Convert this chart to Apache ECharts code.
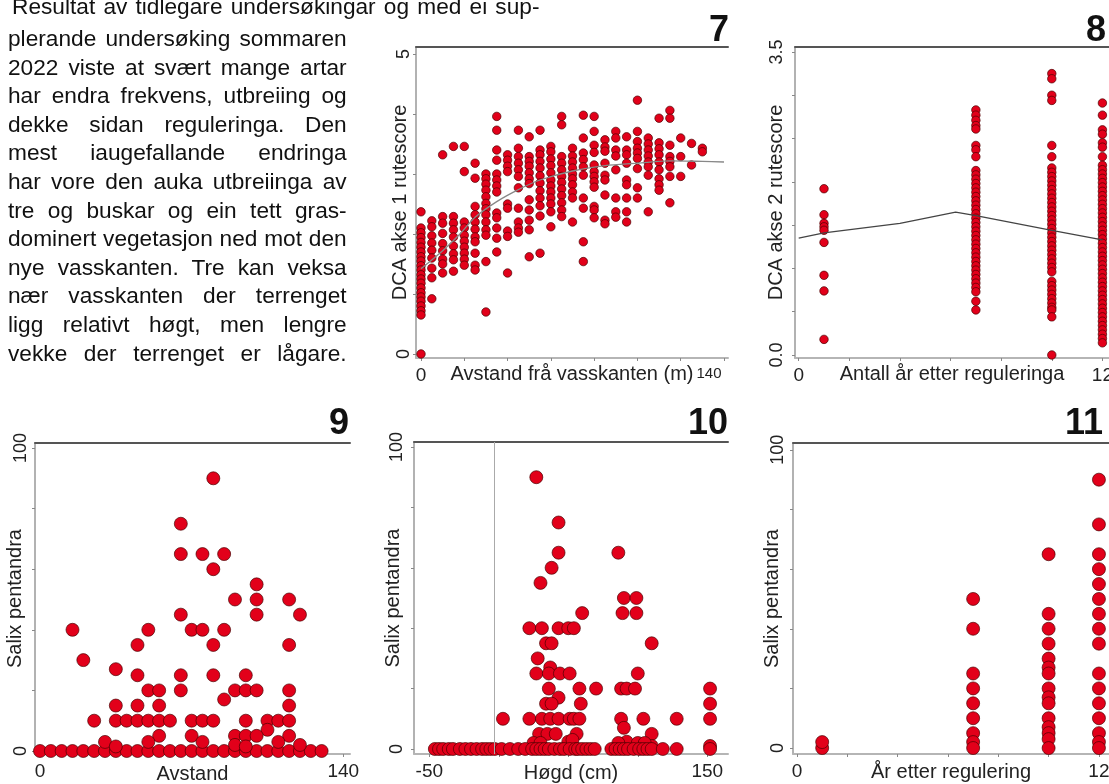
<!DOCTYPE html>
<html>
<head>
<meta charset="utf-8">
<title>DCA og Salix pentandra</title>
<script src="https://cdn.jsdelivr.net/npm/echarts@6/dist/echarts.min.js"></script>
<style>
  html, body { margin: 0; padding: 0; background: #fff; }
  #wrap { position: relative; width: 1109px; height: 784px; overflow: hidden; }
  #chart { position: absolute; left: 0; top: 0; width: 1109px; height: 784px; }
  .txt { position: absolute; font-family: "Liberation Sans", Arial, sans-serif; font-size: 21.5px; line-height: 28.6px;
         color: #111; transform: scaleX(1.055); transform-origin: 0 0; }
  .txt div { text-align: justify; text-align-last: justify; }
</style>
</head>
<body>
<div id="wrap">
  <div id="chart"></div>
  <div class="txt" style="left:12px; top:-7px; width:500px;">
    <div>Resultat av tidlegare undersøkingar og med ei sup-</div>
  </div>
  <div class="txt" style="left:8px; top:25px; width:321px;">
    <div>plerande undersøking sommaren</div>
    <div>2022 viste at svært mange artar</div>
    <div>har endra frekvens, utbreiing og</div>
    <div>dekke sidan reguleringa. Den</div>
    <div>mest iaugefallande endringa</div>
    <div>har vore den auka utbreiinga av</div>
    <div>tre og buskar og ein tett gras-</div>
    <div>dominert vegetasjon ned mot den</div>
    <div>nye vasskanten. Tre kan veksa</div>
    <div>nær vasskanten der terrenget</div>
    <div>ligg relativt høgt, men lengre</div>
    <div>vekke der terrenget er lågare.</div>
  </div>
</div>
<script>
// ---------------------------------------------------------------------------
// Fem små spreiingsplott (7-11): DCA-skårar og dekning av Salix pentandra
// ---------------------------------------------------------------------------

// 7: DCA akse 1 mot avstand frå vasskanten (kolonnar kvar 5. m)
const dca1Dist = [0, 5, 10, 15, 20, 25, 30, 35, 40, 45, 50, 55, 60, 65, 70, 75, 80, 85, 90, 95, 100, 105, 110, 115, 120, 125, 130];
const dca1Score = [
  [2.37, 2.1, 2.02, 1.94, 1.86, 1.78, 1.7, 1.62, 1.55, 1.47, 1.4, 1.32, 1.25, 1.18, 1.1, 1.02, 0.95, 0.88, 0.8, 0.72, 0.65, 0.0],
  [2.22, 2.12, 1.97, 1.85, 1.73, 1.6, 1.43, 1.27, 0.92],
  [3.32, 2.29, 2.18, 2.01, 1.84, 1.72, 1.58, 1.5, 1.35],
  [3.46, 2.29, 2.18, 2.07, 1.95, 1.8, 1.67, 1.57, 1.38],
  [3.46, 3.04, 2.2, 2.1, 1.98, 1.88, 1.78, 1.68, 1.58, 1.48],
  [3.18, 2.93, 2.46, 2.32, 2.2, 2.08, 1.95, 1.87, 1.68, 1.48, 1.4],
  [3.0, 2.92, 2.83, 2.73, 2.62, 2.51, 2.42, 2.32, 2.2, 2.07, 1.98, 1.54, 0.7],
  [3.96, 3.73, 3.4, 3.23, 3.0, 2.9, 2.8, 2.7, 2.35, 2.27, 2.1, 1.93, 1.7],
  [3.32, 3.23, 3.13, 3.04, 2.5, 2.43, 2.05, 1.96, 1.35],
  [3.73, 3.43, 3.29, 3.18, 3.07, 2.96, 2.77, 2.43, 2.2, 2.1, 2.03],
  [3.62, 3.29, 3.21, 3.13, 3.02, 2.92, 2.84, 2.57, 2.4, 2.23, 2.07, 1.62],
  [3.73, 3.4, 3.32, 3.21, 3.1, 2.97, 2.85, 2.72, 2.6, 2.47, 2.3, 1.68],
  [3.46, 3.37, 3.25, 3.14, 3.02, 2.9, 2.8, 2.7, 2.6, 2.5, 2.37, 2.12],
  [3.96, 3.82, 3.29, 3.18, 3.07, 2.96, 2.86, 2.75, 2.64, 2.52, 2.4, 2.29],
  [3.43, 3.3, 3.2, 3.1, 3.0, 2.92, 2.82, 2.7, 2.6, 2.2],
  [3.98, 3.6, 3.35, 3.24, 3.12, 2.98, 2.6, 2.43, 1.87, 1.54],
  [3.96, 3.71, 3.48, 3.36, 3.15, 3.04, 2.96, 2.87, 2.78, 2.46, 2.4, 2.27],
  [3.57, 3.45, 3.38, 3.18, 2.98, 2.9, 2.65, 2.23, 2.17],
  [3.71, 3.6, 3.4, 3.3, 3.07, 2.6, 2.37, 2.28],
  [3.62, 3.4, 3.32, 3.18, 2.9, 2.82, 2.6, 2.37, 2.2],
  [4.23, 3.71, 3.54, 3.43, 3.35, 3.26, 3.09, 2.77, 2.6],
  [3.6, 3.5, 3.4, 3.3, 3.2, 3.12, 2.98, 2.37],
  [3.93, 3.52, 3.42, 3.32, 3.2, 3.07, 2.92, 2.82, 2.73],
  [4.06, 3.93, 3.48, 3.29, 3.21, 3.12, 2.96, 2.52],
  [3.6, 3.29, 2.96],
  [3.51, 3.15],
  [3.43, 3.37]
];
const dca1Fit = [[0, 1.42], [10, 1.72], [18, 2.0], [25, 2.28], [35, 2.54], [45, 2.74], [55, 2.9], [70, 3.05], [85, 3.14], [100, 3.18], [115, 3.22], [130, 3.21], [140, 3.2]];

// 8: DCA akse 2 mot år etter regulering
const dca2Years = [1, 7, 10, 12];
const dca2Score = [
  [1.92, 1.62, 1.52, 1.48, 1.44, 1.3, 0.92, 0.74, 0.18],
  [2.83, 2.77, 2.71, 2.65, 2.61, 2.42, 2.37, 2.29, 2.13, 2.08, 2.03, 1.98, 1.93, 1.88, 1.83, 1.78, 1.73, 1.68, 1.63, 1.58, 1.53, 1.48, 1.43, 1.38, 1.33, 1.28, 1.23, 1.18, 1.13, 1.08, 1.03, 0.98, 0.93, 0.88, 0.83, 0.78, 0.73, 0.62, 0.52],
  [3.25, 3.19, 3.0, 2.94, 2.42, 2.29, 2.16, 2.11, 2.06, 2.01, 1.96, 1.91, 1.86, 1.81, 1.76, 1.71, 1.66, 1.61, 1.56, 1.51, 1.46, 1.41, 1.36, 1.31, 1.26, 1.21, 1.16, 1.11, 1.06, 1.01, 0.96, 0.85, 0.8, 0.75, 0.7, 0.65, 0.6, 0.55, 0.52, 0.44, 0.0],
  [2.91, 2.77, 2.6, 2.55, 2.45, 2.4, 2.29, 2.19, 2.14, 2.09, 2.04, 1.99, 1.94, 1.89, 1.84, 1.79, 1.74, 1.69, 1.64, 1.59, 1.54, 1.49, 1.44, 1.39, 1.34, 1.29, 1.24, 1.19, 1.14, 1.09, 1.04, 0.99, 0.94, 0.89, 0.84, 0.79, 0.74, 0.69, 0.64, 0.59, 0.54, 0.49, 0.44, 0.39, 0.34, 0.29, 0.24, 0.19, 0.14]
];
const dca2Fit = [[0, 1.35], [1, 1.41], [4, 1.52], [6.2, 1.65], [7, 1.61], [10, 1.44], [12, 1.33]];

// 9: Salix pentandra mot avstand
const salixDist = [
  0, 5, 10, 15, 20, 25, 30, 35, 40, 45, 50, 55, 60, 65, 70, 75, 80, 85, 90, 95, 100, 105, 110, 115, 120, 125, 130,
  80, 65, 65, 75, 85, 80, 100, 90, 100, 115, 65, 100, 120, 15, 50, 70, 75, 85, 45, 80, 115, 20, 35, 45, 65, 80, 95,
  50, 55, 65, 90, 95, 100, 115, 85, 35, 45, 55, 115, 25, 35, 40, 45, 50, 55, 60, 70, 75, 80, 95, 105, 110, 115,
  105, 55, 70, 90, 95, 100, 115, 30, 50, 75, 110, 90, 120, 35, 95
];
const salixDistCover = [
  0, 0, 0, 0, 0, 0, 0, 0, 0, 0, 0, 0, 0, 0, 0, 0, 0, 0, 0, 0, 0, 0, 0, 0, 0, 0, 0,
  90, 75, 65, 65, 65, 60, 55, 50, 50, 50, 45, 45, 45, 40, 40, 40, 40, 40, 35, 35, 35, 30, 27, 25, 25, 25, 25,
  20, 20, 20, 20, 20, 20, 20, 17, 15, 15, 15, 15, 10, 10, 10, 10, 10, 10, 10, 10, 10, 10, 10, 10, 10, 10,
  7, 5, 5, 5, 5, 5, 5, 3, 3, 3, 3, 2, 2, 1.5, 1.5
];

// 10: Salix pentandra mot høgd (cm)
const salixHeight = [
  27, 43, 43, 38, 30, 86, 90, 99, 89, 99, 60, 22, 31, 43, 50, 54, 110, 34, 38, 28, 37, 27, 36, 44, 51, 100,
  36, 58, 70, 88, 92, 98, 152, 43, 34, 38, 59, 152,
  3, 22, 31, 37, 43, 51, 54, 58, 88, 104, 128, 152,
  90, 110, 29, 35, 41, 56, 50, 92, 110, 152, 25, 30, 53, 86, 100, 105,
  -46, -43, -40, -36, -33, -28, -24, -20, -16, -12, -9, -6, -3, 2, 8, 14, 19, 24, 27, 30, 33, 36, 40, 44, 47, 51, 55, 57, 60, 63, 66, 69, 81, 84, 87, 90, 93, 97, 101, 104, 107, 110, 118, 128, 152
];
const salixHeightCover = [
  90, 75, 65, 60, 55, 65, 50, 50, 45, 45, 45, 40, 40, 40, 40, 40, 35, 35, 35, 30, 27, 25, 25, 25, 25, 25,
  20, 20, 20, 20, 20, 20, 20, 17, 15, 15, 15, 15,
  10, 10, 10, 10, 10, 10, 10, 10, 10, 10, 10, 10,
  7, 5, 5, 5, 5, 5, 2.4, 2.4, 1, 1, 2, 2, 3, 2, 2, 2,
  0, 0, 0, 0, 0, 0, 0, 0, 0, 0, 0, 0, 0, 0, 0, 0, 0, 0, 0, 0, 0, 0, 0, 0, 0, 0, 0, 0, 0, 0, 0, 0, 0, 0, 0, 0, 0, 0, 0, 0, 0, 0, 0, 0, 0
];
const waterLevel = -3; // loddrett referanselinje i plott 10

// 11: Salix pentandra mot år etter regulering
const salixYear = [
  1, 1,
  7, 7, 7, 7, 7, 7, 7, 7, 7,
  10, 10, 10, 10, 10, 10, 10, 10, 10, 10, 10, 10, 10, 10, 10,
  12, 12, 12, 12, 12, 12, 12, 12, 12, 12, 12, 12, 12, 12, 12, 12
];
const salixYearCover = [
  0, 2,
  50, 40, 25, 20, 15, 10, 5, 2, 0,
  65, 45, 40, 35, 30, 27, 25, 20, 17, 15, 10, 7, 5, 3, 0,
  90, 75, 65, 60, 55, 50, 45, 40, 35, 25, 20, 15, 10, 5, 2, 0
];

// plott-nummer
const panelTags = ['7', '8', '9', '10', '11'];

// ---------------------------------------------------------------------------
const FONT = '"Liberation Sans", Arial, sans-serif';
const RED = '#e2001a';
const EDGE = 'rgba(70,0,0,0.85)';

const chart = echarts.init(document.getElementById('chart'), null, { renderer: 'canvas' });

const dca1Points = [];
dca1Dist.forEach((d, i) => dca1Score[i].forEach(s => dca1Points.push([d, s])));
const dca2Points = [];
dca2Years.forEach((y, i) => dca2Score[i].forEach(s => dca2Points.push([y, s])));
const p9 = salixDist.map((d, i) => [d, salixDistCover[i]]);
const p10 = salixHeight.map((h, i) => [h, salixHeightCover[i]]);
const p11 = salixYear.map((y, i) => [y, salixYearCover[i]]);

const plainFmt = v => String(v);

// grid-boksar og akseutsnitt for kvart plott
const panels = [
  { grid: { left: 416, top: 47, width: 312, height: 311 }, x: [-2.31, 141.85], y: [-0.067, 5.117],
    xTicks: [0, 20, 40, 60, 80, 100, 120, 140], xLabels: [0, 140], yTicks: [0, 1, 2, 3, 4, 5], yLabels: [0, 5],
    xName: 'Avstand frå vasskanten (m)', yName: 'DCA akse 1 rutescore', xGap: 6, yMargin: 3, yGap: 6,
    yFmt: plainFmt,
    // «140» står tett inntil aksetittelen i originalen
    xFmt: v => (v === 140 ? '{r|140}' : String(v)), xRich: { r: { fontSize: 15, color: '#222', padding: [0, 30, 0, 0] } } },
  { grid: { left: 795, top: 47, width: 314, height: 311 }, x: [-0.146, 12.26], y: [-0.035, 3.557],
    xTicks: [0, 2, 4, 6, 8, 10, 12], xLabels: [0, 12], yTicks: [0, 0.5, 1, 1.5, 2, 2.5, 3, 3.5], yLabels: [0, 3.5],
    xName: 'Antall år etter reguleringa', yName: 'DCA akse 2 rutescore', xGap: 6, yMargin: 9, yGap: 9,
    yFmt: v => v.toFixed(1), xFmt: plainFmt },
  { grid: { left: 35, top: 443, width: 315, height: 311 }, x: [-2.31, 143.1], y: [-0.99, 101.65],
    xTicks: [0, 20, 40, 60, 80, 100, 120, 140], xLabels: [0, 140], yTicks: [0, 20, 40, 60, 80, 100], yLabels: [0, 100],
    xName: 'Avstand', yName: 'Salix pentandra', xGap: 10, yMargin: 5, yGap: 10, yFmt: plainFmt, xFmt: plainFmt },
  { grid: { left: 414, top: 442, width: 314, height: 312 }, x: [-61, 164.9], y: [-1.66, 101.66],
    xTicks: [-50, 0, 50, 100, 150], xLabels: [-50, 150], yTicks: [0, 20, 40, 60, 80, 100], yLabels: [0, 100],
    xName: 'Høgd (cm)', yName: 'Salix pentandra', xGap: 9, yMargin: 8, yGap: 11, yFmt: plainFmt, xFmt: plainFmt },
  { grid: { left: 793, top: 443, width: 316, height: 311 }, x: [-0.16, 12.4], y: [-2.0, 102.3],
    xTicks: [0, 2, 4, 6, 8, 10, 12], xLabels: [0, 12], yTicks: [0, 20, 40, 60, 80, 100], yLabels: [0, 100],
    xName: 'År etter regulering', yName: 'Salix pentandra', xGap: 8, yMargin: 6, yGap: 11, yFmt: plainFmt, xFmt: plainFmt }
];

const grid = [], xAxis = [], yAxis = [];
panels.forEach((p, i) => {
  grid.push(Object.assign({ outerBoundsMode: 'none', containLabel: false }, p.grid));
  // nedre x-akse
  xAxis.push({
    type: 'value', gridIndex: i, position: 'bottom', min: p.x[0], max: p.x[1],
    axisLine: { show: true, onZero: false, lineStyle: { color: '#b5b5b5', width: 2 } },
    axisTick: { show: true, customValues: p.xTicks, length: 3, lineStyle: { color: '#888' } },
    axisLabel: { show: true, customValues: p.xLabels, fontSize: 19, color: '#222', margin: 8, fontFamily: FONT,
      formatter: p.xFmt, rich: p.xRich || {} },
    splitLine: { show: false },
    name: p.xName, nameLocation: 'middle', nameGap: p.xGap, nameMoveOverlap: false,
    nameTextStyle: { fontSize: 20, color: '#222', fontFamily: FONT, verticalAlign: 'top' }
  });
  // toppkant
  xAxis.push({
    type: 'value', gridIndex: i, position: 'top', min: p.x[0], max: p.x[1],
    axisLine: { show: true, onZero: false, lineStyle: { color: '#555', width: 2 } },
    axisTick: { show: false }, axisLabel: { show: false }, splitLine: { show: false }
  });
  yAxis.push({
    type: 'value', gridIndex: i, min: p.y[0], max: p.y[1],
    axisLine: { show: true, onZero: false, lineStyle: { color: '#999', width: 1.5 } },
    axisTick: { show: true, customValues: p.yTicks, length: 3, lineStyle: { color: '#888' } },
    axisLabel: { show: true, customValues: p.yLabels, rotate: 90, fontSize: 18, color: '#222', margin: p.yMargin, fontFamily: FONT, formatter: p.yFmt },
    splitLine: { show: false },
    name: p.yName, nameLocation: 'middle', nameGap: p.yGap, nameMoveOverlap: false,
    nameTextStyle: { fontSize: 20, color: '#222', fontFamily: FONT }
  });
});

const dot = (size) => ({
  type: 'scatter', symbol: 'circle', symbolSize: size, silent: true,
  itemStyle: { color: RED, borderColor: EDGE, borderWidth: 0.8, opacity: 1 }
});

const series = [
  Object.assign(dot(8.5), { xAxisIndex: 0, yAxisIndex: 0, data: dca1Points }),
  { type: 'line', xAxisIndex: 0, yAxisIndex: 0, data: dca1Fit, smooth: 0.3, symbol: 'none', silent: true,
    lineStyle: { color: '#888', width: 1.3 }, z: 3 },
  Object.assign(dot(8.5), { xAxisIndex: 2, yAxisIndex: 1, data: dca2Points }),
  { type: 'line', xAxisIndex: 2, yAxisIndex: 1, data: dca2Fit, smooth: false, symbol: 'none', silent: true,
    lineStyle: { color: '#444', width: 1.3 }, z: 3 },
  Object.assign(dot(13), { xAxisIndex: 4, yAxisIndex: 2, data: p9 }),
  Object.assign(dot(13), { xAxisIndex: 6, yAxisIndex: 3, data: p10,
    markLine: { silent: true, symbol: 'none', label: { show: false }, animation: false,
      lineStyle: { color: '#aaa', width: 1, type: 'solid' }, data: [{ xAxis: waterLevel }] } }),
  Object.assign(dot(13), { xAxisIndex: 8, yAxisIndex: 4, data: p11 })
];

// plott-nummer oppe til høgre for kvart plott
const tagPos = [[729, 31.5], [1106, 31.5], [349, 424.5], [728, 424.5], [1103, 424.5]];
const graphic = panelTags.map((t, i) => ({
  type: 'text', x: tagPos[i][0], y: tagPos[i][1], silent: true,
  style: { text: t, font: 'bold 36px ' + FONT, fill: '#111', align: 'right', verticalAlign: 'middle' }
}));

chart.setOption({
  animation: false,
  backgroundColor: '#fff',
  textStyle: { fontFamily: FONT },
  grid, xAxis, yAxis, series, graphic
});
</script>
</body>
</html>
